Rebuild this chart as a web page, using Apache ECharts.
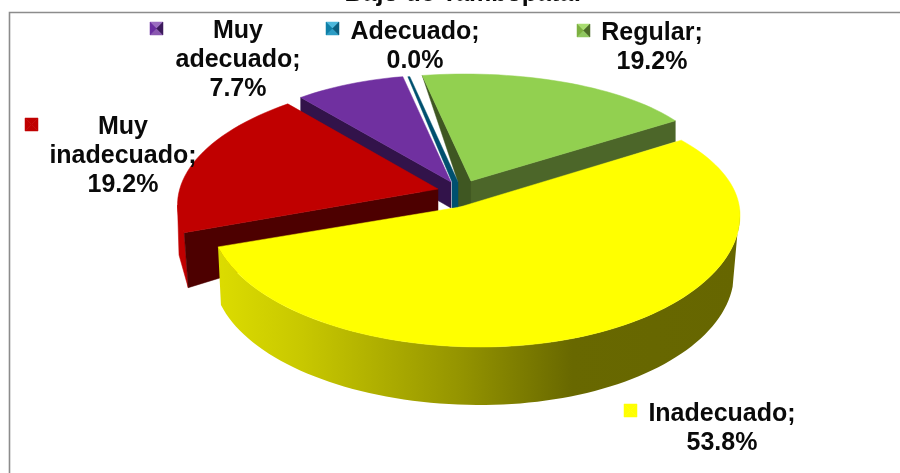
<!DOCTYPE html>
<html>
<head>
<meta charset="utf-8">
<style>html,body{margin:0;padding:0;background:#fff}#c{width:900px;height:473px}</style>
<script src="https://cdn.jsdelivr.net/npm/echarts@6/dist/echarts.min.js"></script>
</head>
<body>
<div id="c"></div>
<script>
// ---- data ----
const titleText = 'Bajo de Tambopata:';
const categories = ['Muy adecuado', 'Adecuado', 'Regular', 'Inadecuado', 'Muy inadecuado'];
const values = [7.7, 0.0, 19.2, 53.8, 19.2];

// ---- presentation ----
const firstAngle = 232.2;              // clockwise on screen, 0 = right
const drawOrder = [2, 1, 0, 4, 3];     // back to front
const topColors = ['#7030a0', '#005f80', '#92d050', '#ffff00', '#c00000'];
const wallColors = ['#32134a', '#00506f', '#4c6629', '#666600', '#4d0000'];
const markColors = [
  {t:'#9a6cc0',b:'#8a58b0',s:'#3c1a5c',c:'#6a2da0'},
  {t:'#4cb8dc',b:'#2c9cc4',s:'#0a5f80',c:'#0f80a8'},
  {t:'#a8dc70',b:'#90c860',s:'#4c6c28',c:'#7cb040'},
  {t:'#ffff00',b:'#ffff00',s:'#ffff00',c:'#ffff00'},
  {t:'#c00000',b:'#c00000',s:'#c00000',c:'#c00000'}
];
// projection of each slice on the page: rim ellipse, apex, angle correction
const geo = [
  {cx:443.5,cy:182,rxL:233,rxR:233,ryT:107,ryB:107,ax:451,ay:182,t0:0,t1:0,depth:26},
  {cx:448.5,cy:182,rxL:233,rxR:233,ryT:107,ryB:107,ax:455,ay:182,t0:0,t1:0,depth:26},
  {cx:465,cy:170,rxL:245,rxR:245,ryT:96,ryB:96,ax:471,ay:181,t0:0,t1:0,depth:24},
  {cx:481,cy:215,rxL:271,rxR:259,ryT:118,ryB:132,ax:460,ay:207,t0:-8.5,t1:3,depth:58},
  {cx:462.5,cy:205,rxL:285,rxR:285,ryT:128,ryB:128,ax:438,ay:189,t0:4.5,t1:0,depth:22}
];
const labelPos = [[238,60.5],[415,47],[652,48],[722,428.5],[123,156.5]];
const markerPos = [[150,22],[326,22],[577,24],[624,404],[25,118]];
const markerSize = 13;

const total = values.reduce((a,b)=>a+b,0);
const spans = [];
let acc = firstAngle;
values.forEach(v => { const sw = v/total*360; spans.push([acc, acc+sw]); acc += sw; });

function rim(g, deg, dr, dy) {
  const a = deg*Math.PI/180, c = Math.cos(a), s = Math.sin(a);
  const rx = (c>=0 ? g.rxR + (dr&&dr.r||0) : g.rxL + (dr&&dr.l||0));
  return [g.cx + rx*c, g.cy + (s>=0?g.ryB:g.ryT)*s + (dy||0)];
}
function arc(g, a0, a1, dr, dy) {
  const n = Math.max(2, Math.ceil(Math.abs(a1-a0)/2)), out = [];
  for (let i=0;i<=n;i++) out.push(rim(g, a0+(a1-a0)*i/n, dr, dy));
  return out;
}
function poly(points, fill) {
  return {type:'polygon', shape:{points}, style:{fill, stroke:fill, lineWidth:0.5}};
}
function renderSlice(params, api) {
  const i = api.value(0), g = geo[i], a0 = spans[i][0]+g.t0, a1 = spans[i][1]+g.t1;
  const top = topColors[i], wall = wallColors[i], apex = [g.ax, g.ay], apexD = [g.ax, g.ay+g.depth];
  const kids = [];
  if (values[i] === 0) {
    const r = rim(g, a0);
    kids.push(poly([r,[r[0]+2,r[1]],[g.ax+3,g.ay],[g.ax+3,apexD[1]],[g.ax-3,apexD[1]],[g.ax-3,g.ay]], wall));
  } else if (categories[i] === 'Regular') {
    const r0 = rim(g,a0), r1 = rim(g,a1);
    kids.push(poly([r0,apex,apexD,[g.ax-13,apexD[1]+2],[g.ax-13,g.ay+1]], '#3f5722'));
    kids.push(poly([apex,r1,[r1[0],r1[1]+21],apexD], wall));
    kids.push(poly([apex].concat(arc(g,a0,a1)), top));
  } else if (categories[i] === 'Muy adecuado') {
    const r0 = rim(g,a0);
    kids.push(poly([r0,apex,apexD,[r0[0],r0[1]+24]], wall));
    kids.push(poly([apex].concat(arc(g,a0,a1)), top));
  } else if (categories[i] === 'Muy inadecuado') {
    const r0 = rim(g,a0), far = [r0[0]+4, r0[1]+55], side = rim(g,180);
    kids.push(poly([side,[side[0]+1.5,side[1]+50],far,r0], top));
    kids.push(poly([r0,apex,apexD,far], wall));
    kids.push(poly([apex].concat(arc(g,a0,a1)), top));
  } else {
    const e0 = a0-360, e1 = a1-360;
    const upper = arc(g,-3,e1), lower = arc(g,6,e1,{r:-6,l:-3},g.depth);
    kids.push({type:'polygon', shape:{points:upper.concat(lower.reverse())},
      style:{fill:new echarts.graphic.LinearGradient(218,0,739,0,[
        {offset:0,color:'#dcdc00'},{offset:.16,color:'#c8c800'},
        {offset:.46,color:'#959500'},{offset:.68,color:'#686800'},{offset:1,color:'#666600'}],true)}});
    kids.push(poly([apex].concat(arc(g,e0,e1)), top));
  }
  return {type:'group', children:kids};
}
function labelText(i) {
  return categories[i].split(' ').join('\n') + ';\n' + values[i].toFixed(1) + '%';
}
const font = 'bold 25px "Liberation Sans", Arial, sans-serif';
const graphics = [
  {type:'polyline', shape:{points:[[9.5,473],[9.5,12.5],[900,12.5]]}, style:{fill:null, stroke:'#8c8c8c', lineWidth:1.6}, silent:true},
  {type:'text', x:463, y:-6, style:{text:titleText, font, fill:'#0a0a0a', textAlign:'center', textVerticalAlign:'middle'}, silent:true}
];
categories.forEach((_, i) => {
  graphics.push({type:'text', x:labelPos[i][0], y:labelPos[i][1], z:10,
    style:{text:labelText(i), font, lineHeight:29, fill:'#0a0a0a', textAlign:'center', textVerticalAlign:'middle'}, silent:true});
  const [x,y] = markerPos[i], m = markerSize, c = markColors[i], cx = x+m/2, cy = y+m/2;
  const tri = (pts, fill) => ({type:'polygon', shape:{points:pts}, style:{fill, stroke:fill, lineWidth:0.5}, silent:true});
  graphics.push(tri([[x,y],[x+m,y],[cx,cy]], c.t));
  graphics.push(tri([[x,y+m],[x+m,y+m],[cx,cy]], c.b));
  graphics.push(tri([[x,y],[x,y+m],[cx,cy]], c.c));
  graphics.push(tri([[x+m,y],[x+m,y+m],[cx,cy]], c.s));
});

const chart = echarts.init(document.getElementById('c'), null, {renderer:'canvas'});
chart.setOption({
  animation:false,
  backgroundColor:'#ffffff',
  graphic:graphics,
  series:[{
    type:'custom', coordinateSystem:'none', silent:true, clip:false,
    renderItem:renderSlice,
    encode:{},
    data:drawOrder.map(i => [i, values[i]])
  }]
});
</script>
</body>
</html>
